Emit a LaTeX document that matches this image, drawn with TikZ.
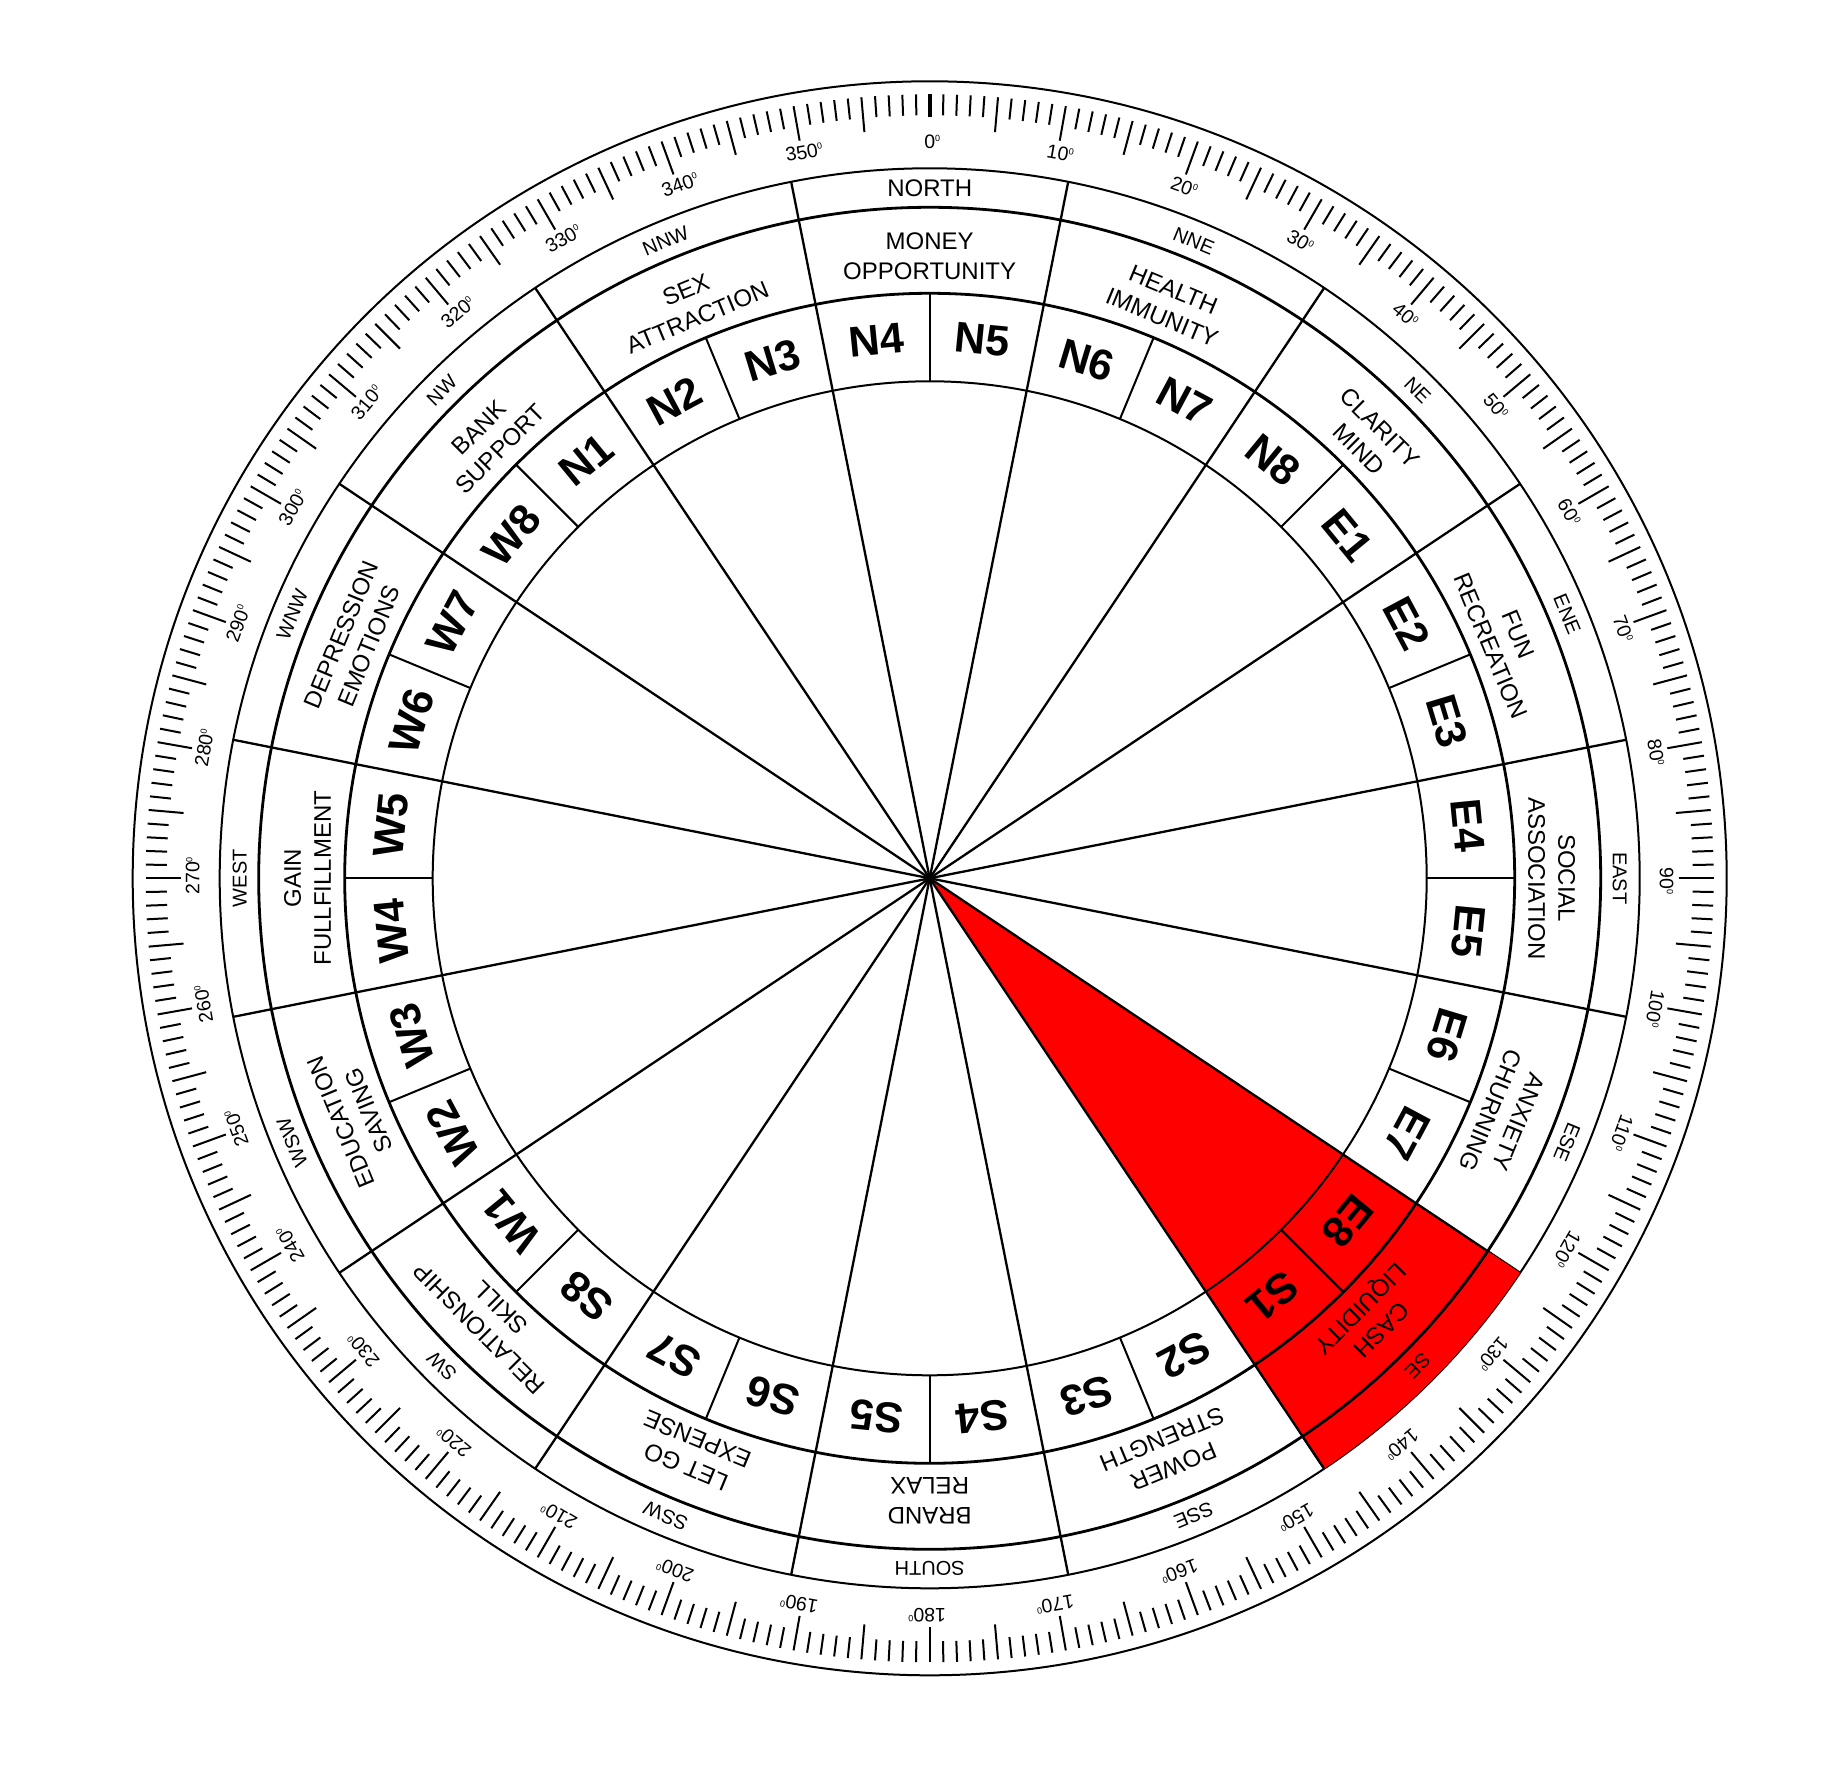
\documentclass[tikz,border=0pt]{standalone}
\usepackage{fontspec}
\setmainfont{Liberation Sans}
\begin{document}
\begin{tikzpicture}[x=1pt,y=1pt,
  tick/.style={line width=2pt},
  ring/.style={line width=2pt},
  heavyring/.style={line width=2.8pt},
  radial/.style={line width=2.3pt},
  deglbl/.style={font=\fontsize{19.5}{19.5}\selectfont, inner sep=0pt},
  dirlbl/.style={font=\fontsize{20}{20}\selectfont, inner sep=0pt},
  northlbl/.style={font=\fontsize{24}{24}\selectfont, inner sep=0pt},
  zonelbl/.style={font=\fontsize{24}{30}\selectfont, align=center, inner sep=0pt},
  padalbl/.style={font=\bfseries\fontsize{43}{43}\selectfont, inner sep=0pt}]
\useasboundingbox (-929.7,-890.7) rectangle (908.3,878.3);
\fill[white] (-929.7,-890.7) rectangle (908.3,878.3);
\coordinate (c) at (0,0);
% outer scale
\draw[ring] (c) circle[radius=797];
\foreach \i in {1,...,359}{
  \pgfmathtruncatemacro\m{mod(\i,5)}
  \ifnum\m=0
    \draw[tick] ({90-\i}:749) -- ({90-\i}:784);
  \else
    \draw[tick] ({90-\i}:763) -- ({90-\i}:784);
  \fi
}
\draw[line width=4pt] (90:761) -- (90:784);
% direction ring
\draw[ring] (c) circle[radius=710];
\foreach \k in {0,...,15}{
  \draw[radial] ({90-11.25-22.5*\k}:671) -- ({90-11.25-22.5*\k}:710);
}
% red zone
\fill[red] (c) -- (-33.75:710) arc[start angle=-33.75, end angle=-56.25, radius=710] -- cycle;
\draw[radial] (-56.25:671) -- (-56.25:710);
% inner rings
\draw[heavyring] (c) circle[radius=671];
\draw[heavyring] (c) circle[radius=585];
\draw[ring] (c) circle[radius=497];
\foreach \k in {0,...,15}{
  \draw[radial] (c) -- ({90-11.25-22.5*\k}:671);
  \draw[ring] ({90-22.5*\k}:497) -- ({90-22.5*\k}:585);
}
% degree labels
\foreach \a in {0,10,...,350}{
  \node[deglbl, rotate=-\a] (deg\a) at ({90-\a}:737) {\a\rlap{\smash{\raisebox{7pt}{\fontsize{9}{9}\selectfont 0}}}};
}
% direction labels
\node[northlbl] (dirN) at (90:690) {NORTH};
\foreach \a/\t [count=\j] in {22.5/NNE,45/NE,67.5/ENE,90/EAST,112.5/ESE,135/SE,157.5/SSE,180/SOUTH,202.5/SSW,225/SW,247.5/WSW,270/WEST,292.5/WNW,315/NW,337.5/NNW}{
  \node[dirlbl, rotate=-\a] (dir\j) at ({90-\a}:690) {\t};
}
% zone labels
\foreach \a/\t/\u [count=\j] in {0/MONEY/OPPORTUNITY,22.5/HEALTH/IMMUNITY,45/CLARITY/MIND,67.5/FUN/RECREATION,90/SOCIAL/ASSOCIATION,112.5/ANXIETY/CHURNING,135/CASH/LIQUIDITY,157.5/POWER/STRENGTH,180/BRAND/RELAX,202.5/LET GO/EXPENSE,225/RELATIONSHIP/SKILL,247.5/EDUCATION/SAVING,270/GAIN/FULLFILLMENT,292.5/DEPRESSION/EMOTIONS,315/BANK/SUPPORT,337.5/SEX/ATTRACTION}{
  \node[zonelbl, rotate=-\a] (zone\j) at ({90-\a}:622) {\t\\\u};
}
% pada labels
\foreach \t [count=\k from 0] in {N5,N6,N7,N8,E1,E2,E3,E4,E5,E6,E7,E8,S1,S2,S3,S4,S5,S6,S7,S8,W1,W2,W3,W4,W5,W6,W7,W8,N1,N2,N3,N4}{
  \pgfmathsetmacro\ang{5.625+11.25*\k}
  \node[padalbl, rotate=-\ang] (\t) at ({90-\ang}:541) {\t};
}
\end{tikzpicture}
\end{document}
